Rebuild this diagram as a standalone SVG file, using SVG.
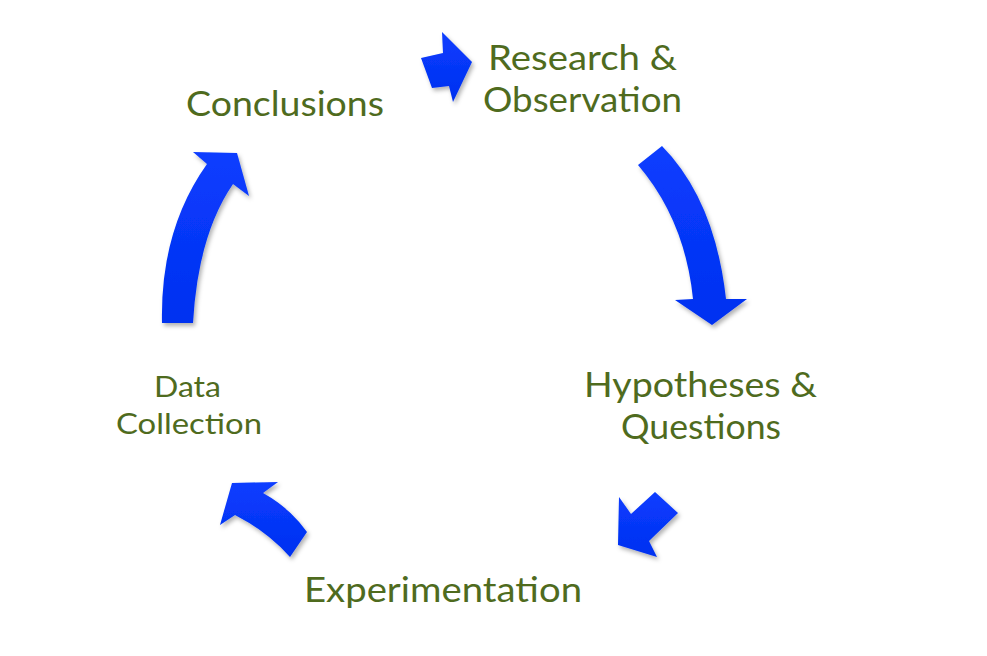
<svg xmlns="http://www.w3.org/2000/svg" width="987" height="656" viewBox="0 0 987 656">
<defs>
<filter id="sh" x="-20%" y="-20%" width="150%" height="150%">
<feDropShadow dx="2" dy="3" stdDeviation="2" flood-color="#000" flood-opacity="0.3"/>
</filter>
<linearGradient id="bl" x1="0" y1="0" x2="0" y2="1">
<stop offset="0" stop-color="#0A3DFF"/>
<stop offset="1" stop-color="#0230F0"/>
</linearGradient>
</defs>
<style>
.arr{fill:url(#bl);filter:url(#sh);}
.lbl{font-family:Lato,"Open Sans","Liberation Sans",sans-serif;fill:#4F6B1E;font-size:34px;}
.sm{font-size:29px;}
</style>
<rect width="987" height="656" fill="#fff"/>
<g id="connectors">
<path class="arr" d="M421,58 L443,53 L442,32 L472,62 L453,102 L449,86 L432,88 Z"/>
<path class="arr" d="M638,165 Q685,220 693,299 L675,300 L712,325 L747,299 L726,299 Q715,200 662,146 Z"/>
<path class="arr" d="M619,497 L631,514 L655,492 L678,513 L649,541 L657,557 L618,545 Z"/>
<path class="arr" d="M220,525 L232,483 L278,482 L263,493 Q290,508 307,532 L290,557 Q268,532 235,515 Z"/>
<path class="arr" d="M162,323 Q160,230 207,164 L193,152 L237,153 L249,196 L233,184 Q198,235 193,323 Z"/>
</g>
<g id="research">
<text class="lbl" x="488" y="70" textLength="189" lengthAdjust="spacingAndGlyphs">Research &amp;</text>
<text class="lbl" x="483" y="112" textLength="199" lengthAdjust="spacingAndGlyphs">Observation</text>
</g>
<g id="hypotheses">
<text class="lbl" x="584" y="397" textLength="233" lengthAdjust="spacingAndGlyphs">Hypotheses &amp;</text>
<text class="lbl" x="621" y="439" textLength="160" lengthAdjust="spacingAndGlyphs">Questions</text>
</g>
<g id="experimentation">
<text class="lbl" x="304" y="602" textLength="278" lengthAdjust="spacingAndGlyphs">Experimentation</text>
</g>
<g id="data">
<text class="lbl sm" x="154" y="397" textLength="67" lengthAdjust="spacingAndGlyphs">Data</text>
<text class="lbl sm" x="116" y="434" textLength="146" lengthAdjust="spacingAndGlyphs">Collection</text>
</g>
<g id="conclusions">
<text class="lbl" x="186" y="116" textLength="198" lengthAdjust="spacingAndGlyphs">Conclusions</text>
</g>
</svg>
